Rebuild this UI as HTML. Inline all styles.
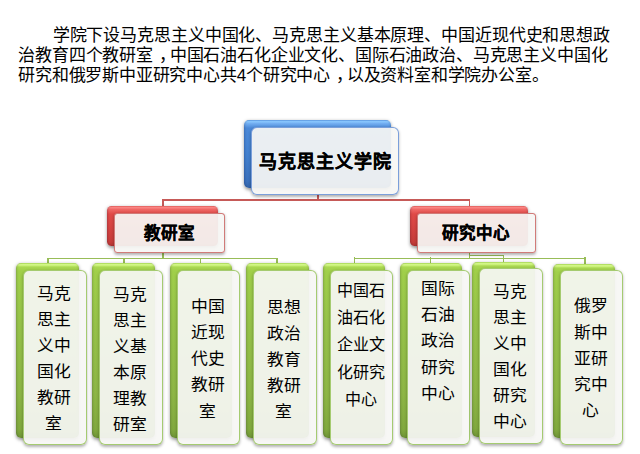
<!DOCTYPE html><html lang="zh-CN"><head><meta charset="utf-8"><style>
*{margin:0;padding:0;box-sizing:border-box}
html,body{width:640px;height:454px;background:#fff;overflow:hidden}
body{font-family:"Liberation Sans",sans-serif;color:#000;position:relative}
.p{position:absolute;font-weight:350;font-size:17px;letter-spacing:-0.2px;line-height:20px;white-space:nowrap}
.cm{position:relative;left:6px}
.b{position:absolute;border-radius:6px;box-shadow:0 1.5px 3.5px rgba(0,0,0,0.4), inset 2px 0 2px -1px rgba(0,0,40,0.18), inset -2px 0 2px -1px rgba(0,0,40,0.12)}
.blue{border-radius:5px;background:linear-gradient(#5592dc 0px,#7ebcf8 1px,#8ac8ff 1.8px,#76b2f4 3px,#4b89d8 8px,#4280cf 50%,#3a70bc 90%,#3264ab 100%)}
.red{border-radius:4.5px;background:linear-gradient(#e05a58 0px,#f67c7a 1px,#fc8886 1.8px,#f06a68 3px,#e04a48 8px,#d64442 50%,#c63c3a 90%,#b03432 100%)}
.green{border-radius:5px;background:linear-gradient(#a4d44e 0px,#c8f07c 1px,#d6fa8c 1.8px,#c4ec70 2.8px,#aad852 4px,#a0cf4a 8px,#96c249 35%,#8db645 75%,#81a93e 95%,#6f9436 100%)}
.w{position:absolute;border-radius:6px;background:rgba(246,246,244,0.93);box-shadow:0 1.5px 3px rgba(0,0,0,0.3)}
.wb{border:1px solid rgba(110,150,215,0.9)}
.wr{border:1px solid rgba(205,110,108,0.9)}
.wg{border:1px solid rgba(160,200,105,0.95)}
.t{position:absolute;font-weight:bold;white-space:nowrap;-webkit-text-stroke:0.3px #000}
.g{position:absolute;font-weight:350;text-align:center;font-size:16px;white-space:nowrap}
.ln{position:absolute}
.lr{background:#c65a58}
.lg{background:#98bd58}
</style></head><body><div class="p" style="left:52.7px;top:26px;letter-spacing:-0.11px">学院下设马克思主义中国化、马克思主义基本原理、中国近现代史和思想政</div>
<div class="p" style="left:18.3px;top:46px;letter-spacing:-0.17px">治教育四个教研室<span class="cm">，</span>中国石油石化企业文化、国际石油政治、马克思主义中国化</div>
<div class="p" style="left:18.3px;top:66px">研究和俄罗斯中亚研究中心共4个研究中心<span class="cm">，</span>以及资料室和学院办公室。</div>
<div class="ln lr" style="left:317px;top:194px;width:1.5px;height:6px"></div>
<div class="ln lr" style="left:162px;top:199px;width:308px;height:1.6px"></div>
<div class="ln lr" style="left:162px;top:199px;width:1.5px;height:7px"></div>
<div class="ln lr" style="left:468.5px;top:199px;width:1.5px;height:7px"></div>
<div class="ln lg" style="left:162px;top:252px;width:1.5px;height:6px"></div>
<div class="ln lg" style="left:47.05px;top:257.6px;width:230.7px;height:1.6px"></div>
<div class="ln lg" style="left:47.05px;top:257.6px;width:1.5px;height:6.5px"></div>
<div class="ln lg" style="left:123.15px;top:257.6px;width:1.5px;height:6.5px"></div>
<div class="ln lg" style="left:199.85px;top:257.6px;width:1.5px;height:6.5px"></div>
<div class="ln lg" style="left:276.25px;top:257.6px;width:1.5px;height:6.5px"></div>
<div class="ln lg" style="left:468.5px;top:252px;width:1.5px;height:6.5px"></div>
<div class="ln lg" style="left:468.5px;top:255.0px;width:35.5px;height:1.3px"></div>
<div class="ln lg" style="left:502.9px;top:255.1px;width:1.5px;height:7px"></div>
<div class="ln lg" style="left:353.6px;top:257.5px;width:231px;height:1.4px"></div>
<div class="ln lg" style="left:353.6px;top:257.4px;width:1.5px;height:6.5px"></div>
<div class="ln lg" style="left:429.8px;top:257.4px;width:1.5px;height:6.5px"></div>
<div class="ln lg" style="left:584px;top:257.4px;width:1.5px;height:6.5px"></div>
<div class="b blue" style="left:244px;top:120px;width:147px;height:67.6px"></div>
<div class="w wb" style="left:251px;top:126.5px;width:148px;height:68px"></div>
<div class="t" style="left:251px;top:127.6px;width:148px;height:68px;line-height:68px;text-align:center;font-size:18px;letter-spacing:0.9px;text-indent:0.9px">马克思主义学院</div>
<div class="b red" style="left:107px;top:205.5px;width:110.5px;height:40px"></div>
<div class="w wr" style="left:114.3px;top:212.5px;width:111.0px;height:40.4px;border-radius:3.5px"></div>
<div class="t" style="left:114.3px;top:213px;width:110.5px;height:40px;line-height:40px;text-align:center;font-size:16.5px">教研室</div>
<div class="b red" style="left:409.5px;top:205.5px;width:118.5px;height:40px"></div>
<div class="w wr" style="left:416.8px;top:212.5px;width:119.0px;height:40.4px;border-radius:3.5px"></div>
<div class="t" style="left:416.8px;top:213px;width:118.5px;height:40px;line-height:40px;text-align:center;font-size:16.5px">研究中心</div>
<div class="b green" style="left:16.25px;top:263.3px;width:62.75px;height:174.8px"></div>
<div class="w wg" style="left:23.25px;top:269.90000000000003px;width:63.75px;height:175.3px"></div>
<div class="g" style="left:22.45px;top:281.40px;width:63.75px;line-height:26.0px;transform:scaleX(1.05);">马克<br>思主<br>义中<br>国化<br>教研<br>室</div>
<div class="b green" style="left:92.1px;top:263.3px;width:62.75px;height:174.8px"></div>
<div class="w wg" style="left:99.1px;top:269.90000000000003px;width:63.75px;height:175.3px"></div>
<div class="g" style="left:98.3px;top:281.80px;width:63.75px;line-height:26.0px;transform:scaleX(1.05);">马克<br>思主<br>义基<br>本原<br>理教<br>研室</div>
<div class="b green" style="left:169.5px;top:263.3px;width:62.75px;height:174.8px"></div>
<div class="w wg" style="left:176.5px;top:269.90000000000003px;width:63.75px;height:175.3px"></div>
<div class="g" style="left:175.7px;top:293.93px;width:63.75px;line-height:26.15px;transform:scaleX(1.05);">中国<br>近现<br>代史<br>教研<br>室</div>
<div class="b green" style="left:246.25px;top:263.3px;width:62.75px;height:174.8px"></div>
<div class="w wg" style="left:253.25px;top:269.90000000000003px;width:63.75px;height:175.3px"></div>
<div class="g" style="left:252.45px;top:294.60px;width:63.75px;line-height:26.0px;transform:scaleX(1.05);">思想<br>政治<br>教育<br>教研<br>室</div>
<div class="b green" style="left:322.5px;top:263.3px;width:62.75px;height:174.8px"></div>
<div class="w wg" style="left:329.5px;top:269.90000000000003px;width:63.75px;height:175.3px"></div>
<div class="g" style="left:328.7px;top:276.75px;width:63.75px;line-height:27.3px;">中国石<br>油石化<br>企业文<br>化研究<br>中心</div>
<div class="b green" style="left:399.5px;top:263.3px;width:62.75px;height:174.8px"></div>
<div class="w wg" style="left:406.5px;top:269.90000000000003px;width:63.75px;height:175.3px"></div>
<div class="g" style="left:405.7px;top:276.00px;width:63.75px;line-height:26.2px;transform:scaleX(1.05);">国际<br>石油<br>政治<br>研究<br>中心</div>
<div class="b green" style="left:472px;top:261.75px;width:62.75px;height:174.8px"></div>
<div class="w wg" style="left:479px;top:268.35px;width:63.75px;height:175.3px"></div>
<div class="g" style="left:478.2px;top:278.75px;width:63.75px;line-height:26.1px;transform:scaleX(1.05);">马克<br>思主<br>义中<br>国化<br>研究<br>中心</div>
<div class="b green" style="left:552.7px;top:263.5px;width:62.75px;height:174.8px"></div>
<div class="w wg" style="left:559.7px;top:270.1px;width:63.75px;height:175.3px"></div>
<div class="g" style="left:558.9000000000001px;top:293.45px;width:63.75px;line-height:26.1px;transform:scaleX(1.05);">俄罗<br>斯中<br>亚研<br>究中<br>心</div></body></html>
